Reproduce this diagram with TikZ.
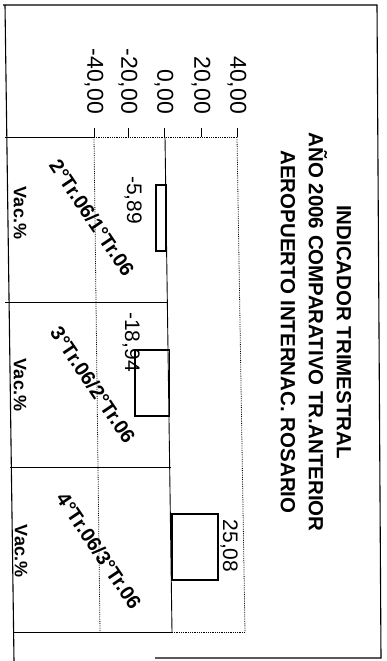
\documentclass[tikz,border=0pt]{standalone}
\usepackage{fontspec}
\setmainfont{Liberation Sans}
\tikzset{
  frame line/.style={line width=1.1pt},
  axis line/.style={line width=0.9pt},
  grid line/.style={line width=0.8pt, densely dotted},
  bar/.style={draw, line width=1.6pt},
  tick label/.style={font=\fontsize{23}{23}\selectfont, rotate=-90, anchor=east, inner sep=0pt},
  value label/.style={font=\fontsize{21}{21}\selectfont, rotate=-90, inner sep=0pt},
  period label/.style={font=\fontsize{20}{20}\selectfont\bfseries, rotate=-56, inner sep=0pt},
  vac label/.style={font=\fontsize{18}{18}\selectfont\bfseries, rotate=-90, inner sep=0pt},
  title block/.style={font=\fontsize{20.5}{28}\selectfont\bfseries, rotate=-90, align=center, inner sep=0pt},
}
\begin{document}
\begin{tikzpicture}[x=1pt,y=-1pt]
\useasboundingbox (0,0) rectangle (386,661);
%the frame
\draw[frame line] (3,5) -- (377,5) -- (381,658) -- (155,658);
\draw[frame line] (5,5) -- (14,661);
%the value axis
\draw[axis line] (5,137) -- (94,137);
\draw[grid line] (94,137) -- (237,137);
\draw[axis line] (94,128) -- (94,137);
\draw[axis line] (128,128) -- (128,137);
\draw[axis line] (164,128) -- (164,137);
\draw[axis line] (201,128) -- (201,137);
\draw[axis line] (237,128) -- (237,137);
\node[tick label] (tM40) at (94,114) {-40,00};
\node[tick label] (tM20) at (128,114) {-20,00};
\node[tick label] (tZ) at (164,114) {0,00};
\node[tick label] (tP20) at (201,114) {20,00};
\node[tick label] (tP40) at (237,114) {40,00};
%the plot area
\draw[grid line] (94,137) -- (100,632);
\draw[grid line] (237,137) -- (245,632);
\draw[grid line] (172,632) -- (245,632);
\draw[axis line] (165,137) -- (172,632);
\draw[axis line] (5,302) -- (168,302);
\draw[axis line] (10,467) -- (171,467);
\draw[axis line] (13,632) -- (172,632);
%the bars
\draw[bar] (156,185) rectangle (166,251);
\draw[bar] (135,350) rectangle (169.5,416);
\draw[bar] (172,514) rectangle (218,580);
\node[value label] (vA) at (133,200) {-5,89};
\node[value label] (vB) at (131,342) {-18,94};
\node[value label] (vC) at (229,546) {25,08};
%the categories
\node[period label] (pA) at (92,218) {2°Tr.06/1°Tr.06};
\node[period label] (pB) at (93,385) {3°Tr.06/2°Tr.06};
\node[period label] (pC) at (99,551) {4°Tr.06/3°Tr.06};
\node[vac label] (qA) at (20,213) {Vac.\%};
\node[vac label] (qB) at (20,385) {Vac.\%};
\node[vac label] (qC) at (21,551) {Vac.\%};
%the title
\node[title block] (ttl) at (316,332) {INDICADOR TRIMESTRAL\\AÑO 2006 COMPARATIVO TR.ANTERIOR\\AEROPUERTO INTERNAC. ROSARIO};
\end{tikzpicture}
\end{document}
